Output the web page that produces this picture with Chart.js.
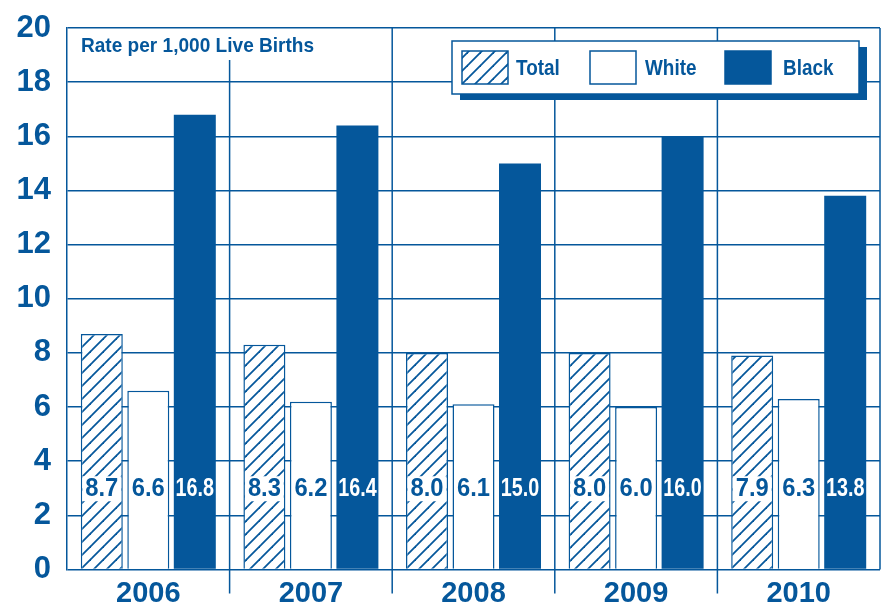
<!DOCTYPE html>
<html><head><meta charset="utf-8">
<script src="https://cdn.jsdelivr.net/npm/chart.js@4/dist/chart.umd.min.js"></script>
<style>html,body{margin:0;padding:0;background:#fff;}</style>
</head><body>
<canvas id="c" width="884" height="606"></canvas>
<script>
// ---- data ----
const years = ['2006', '2007', '2008', '2009', '2010'];
const totalRates = [8.7, 8.3, 8.0, 8.0, 7.9];
const whiteRates = [6.6, 6.2, 6.1, 6.0, 6.3];
const blackRates = [16.8, 16.4, 15.0, 16.0, 13.8];
const yTickValues = [0, 2, 4, 6, 8, 10, 12, 14, 16, 18, 20];
const seriesNames = ['Total', 'White', 'Black'];
const chartTitle = 'Rate per 1,000 Live Births';

// ---- styles ----
const BLUE = '#05579b';
const FONT = '"Liberation Sans", Arial, sans-serif';
const LABEL_AT = 3; // y-level (in axis units) where value labels sit

function hatchPattern() {
  const n = 13;
  const c = document.createElement('canvas');
  c.width = n; c.height = n;
  const g = c.getContext('2d');
  g.fillStyle = '#fff'; g.fillRect(0, 0, n, n);
  g.strokeStyle = BLUE; g.lineWidth = 1.8;
  for (const off of [-n, 0, n]) {
    g.beginPath();
    g.moveTo(-2, n + off + 2); g.lineTo(n + 2, off - 2);
    g.stroke();
  }
  return document.getElementById('c').getContext('2d').createPattern(c, 'repeat');
}
const HATCH = hatchPattern();

function condensedText(ctx, txt, x, y, sx) {
  ctx.save();
  ctx.translate(x, y);
  ctx.scale(sx, 1);
  ctx.fillText(txt, 0, 0);
  ctx.restore();
}

const framePlugin = {
  id: 'frame',
  beforeDatasetsDraw(chart) {
    const { ctx, chartArea: a, scales: { x } } = chart;
    ctx.save();
    ctx.strokeStyle = BLUE; ctx.lineWidth = 1.5;
    for (let i = 1; i < years.length; i++) {
      const px = (x.getPixelForTick(i - 1) + x.getPixelForTick(i)) / 2;
      ctx.beginPath();
      ctx.moveTo(px, i === 1 ? a.top + 32 : a.top);
      ctx.lineTo(px, a.bottom + 24);
      ctx.stroke();
    }
    ctx.beginPath();
    ctx.moveTo(a.right, a.top); ctx.lineTo(a.right, a.bottom);
    ctx.stroke();
    ctx.restore();
  },
  afterDatasetsDraw(chart) {
    const { ctx, chartArea: a, scales: { y } } = chart;
    ctx.save();
    // value labels
    const ly = y.getPixelForValue(LABEL_AT);
    chart.data.datasets.forEach((ds, d) => {
      const meta = chart.getDatasetMeta(d);
      meta.data.forEach((el, i) => {
        const txt = ds.data[i].toFixed(1);
        ctx.textAlign = 'center'; ctx.textBaseline = 'middle';
        if (d === 2) {
          ctx.font = 'bold 26px ' + FONT;
          ctx.fillStyle = '#fff';
          condensedText(ctx, txt, el.x, ly + 1, 0.76);
        } else {
          ctx.font = 'bold 25px ' + FONT;
          if (d === 0) {
            const w = ctx.measureText(txt).width + 4;
            const left = Math.max(el.x - w / 2, el.x - el.width / 2 + 1.5);
            const right = Math.min(el.x + w / 2, el.x + el.width / 2 - 1.5);
            ctx.fillStyle = '#fff';
            ctx.fillRect(left, ly - 12, right - left, 25);
          }
          ctx.fillStyle = BLUE;
          condensedText(ctx, txt, el.x, ly + 1, 0.95);
        }
      });
    });
    // title
    ctx.font = 'bold 20.5px ' + FONT;
    ctx.fillStyle = BLUE; ctx.textAlign = 'left'; ctx.textBaseline = 'alphabetic';
    condensedText(ctx, chartTitle, a.left + 14, a.top + 24, 0.93);
    // legend box with shadow
    const bx = 452, by = 41, bw = 407, bh = 53;
    ctx.fillStyle = BLUE;
    ctx.fillRect(bx + 8, by + 6, bw, bh);
    ctx.fillStyle = '#fff';
    ctx.fillRect(bx, by, bw, bh);
    ctx.strokeStyle = BLUE; ctx.lineWidth = 1.5;
    ctx.strokeRect(bx, by, bw, bh);
    const sw = [[462, 516], [590, 645], [725, 783]];
    chart.data.datasets.forEach((ds, d) => {
      const [sx, tx] = sw[d];
      ctx.fillStyle = ds.backgroundColor;
      ctx.fillRect(sx, by + 10, 46, 33);
      ctx.strokeStyle = BLUE; ctx.lineWidth = 1.5;
      ctx.strokeRect(sx, by + 10, 46, 33);
      ctx.fillStyle = BLUE;
      ctx.font = 'bold 21.5px ' + FONT;
      ctx.textAlign = 'left';
      ctx.textBaseline = 'middle';
      condensedText(ctx, ds.label, tx, by + 28, 0.88);
    });
    ctx.restore();
  }
};

new Chart(document.getElementById('c'), {
  type: 'bar',
  data: {
    labels: years,
    datasets: [
      { label: seriesNames[0], data: totalRates, backgroundColor: HATCH, borderColor: BLUE, borderWidth: 1.5 },
      { label: seriesNames[1], data: whiteRates, backgroundColor: '#ffffff', borderColor: BLUE, borderWidth: 1.5 },
      { label: seriesNames[2], data: blackRates, backgroundColor: BLUE, borderColor: BLUE, borderWidth: 0 }
    ]
  },
  options: {
    responsive: false,
    animation: false,
    devicePixelRatio: 1,
    layout: { padding: { top: 28, right: 4, left: 0, bottom: 0 } },
    datasets: { bar: { categoryPercentage: 0.858, barPercentage: 0.903 } },
    plugins: { legend: { display: false }, tooltip: { enabled: false } },
    scales: {
      x: {
        grid: { display: false, drawTicks: false },
        border: { display: false },
        ticks: { color: BLUE, font: { family: FONT, size: 29, weight: 'bold' }, padding: 7 },
        afterFit(s) { s.height = 36.5; s.paddingLeft = 0; s.paddingRight = 0; }
      },
      y: {
        min: 0, max: 20,
        afterBuildTicks(s) { s.ticks = yTickValues.map(v => ({ value: v })); },
        grid: { color: BLUE, lineWidth: 1.5, drawTicks: false },
        border: { display: true, color: BLUE, width: 1.5 },
        ticks: { color: BLUE, font: { family: FONT, size: 31, weight: 'bold' }, padding: 16 },
        afterFit(s) { s.width = 67; s.paddingTop = 0; s.paddingBottom = 0; }
      }
    }
  },
  plugins: [framePlugin]
});
</script>
</body></html>
